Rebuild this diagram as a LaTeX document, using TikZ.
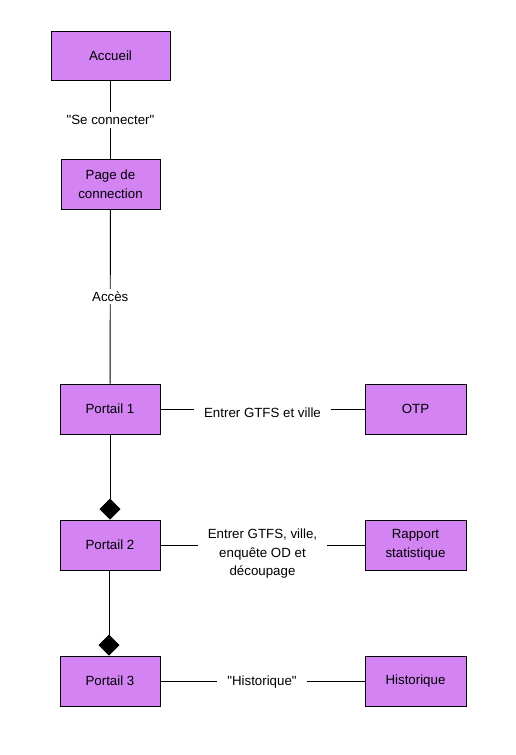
\documentclass[tikz,border=0pt]{standalone}
\usepackage{fontspec}
\setmainfont{Liberation Sans}
\usetikzlibrary{arrows.meta}
\definecolor{boxfill}{RGB}{211,131,242}
\begin{document}
\begin{tikzpicture}[x=1pt,y=-1pt,
  box/.style={draw=black, line width=0.9pt, fill=boxfill, minimum width=100pt, minimum height=50pt, align=center, inner sep=2pt, font=\fontsize{13.3}{18.5}\selectfont},
  lbl/.style={fill=white, inner xsep=10pt, inner ysep=3pt, align=center, font=\fontsize{13.3}{18.5}\selectfont},
  conn/.style={draw=black, line width=0.9pt},
  comp/.style={conn, -{Diamond[length=21pt,width=21pt]}}]
\useasboundingbox (0,0) rectangle (515,755);
\node[box, minimum width=119pt, minimum height=49pt] (acc) at (110.5,55.5) {Accueil};
\node[box, minimum width=99pt] (page) at (110.5,184) {Page de\\connection};
\node[box] (p1) at (110,409) {Portail 1};
\node[box, minimum width=101pt] (otp) at (415.5,409) {OTP};
\node[box] (p2) at (110,545) {Portail 2};
\node[box, minimum width=101pt] (rap) at (415.5,545) {Rapport\\statistique};
\node[box] (p3) at (110,681) {Portail 3};
\node[box, minimum width=101pt] (hist) at (415.5,681) {Historique};
% connectors
\draw[conn] (acc) -- (page) node[lbl, pos=0.5, yshift=-0.5pt] (l1) {\textquotedbl Se connecter\textquotedbl};
\draw[conn] (page) -- (p1) node[lbl, pos=0.5] (l2) {Accès};
\draw[conn] (p1) -- (otp) node[lbl, pos=0.5, yshift=-4pt] (l3) {Entrer GTFS et ville};
\draw[conn] (p2) -- (rap) node[lbl, pos=0.5, yshift=-9pt] (l4) {Entrer GTFS, ville,\\enquête OD et\\découpage};
\draw[conn] (p3) -- (hist) node[lbl, pos=0.5, xshift=-0.5pt, yshift=-1pt] (l5) {\textquotedbl Historique\textquotedbl};
\draw[comp] (p1.south) -- (p2.north);
\draw[comp] ([xshift=-1pt]p2.south) -- ([xshift=-1pt]p3.north);
\end{tikzpicture}
\end{document}
